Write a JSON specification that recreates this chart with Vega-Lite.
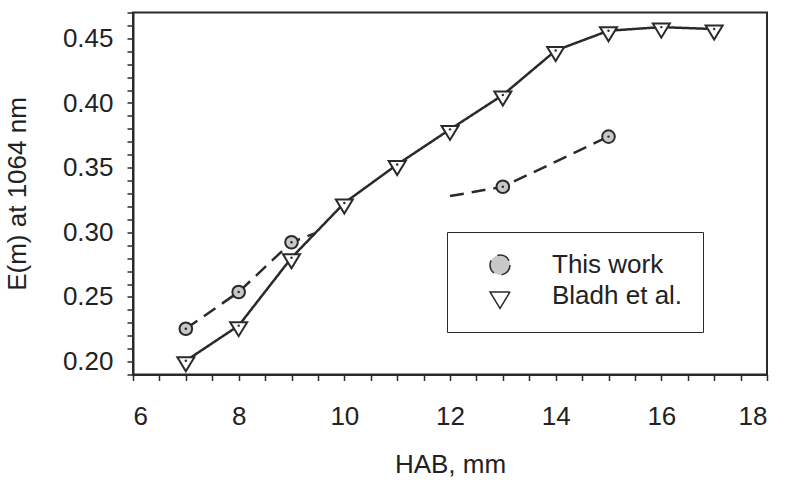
{
  "$schema": "https://vega.github.io/schema/vega-lite/v6.json",
  "width": 634,
  "height": 362,
  "autosize": "none",
  "padding": {"left": 133, "top": 12.5, "right": 20, "bottom": 110.5},
  "background": "white",
  "config": {
    "font": "Liberation Sans",
    "view": {"stroke": "#2a2a2a", "strokeWidth": 2},
    "axis": {
      "domainColor": "#2a2a2a", "domainWidth": 2,
      "tickColor": "#2a2a2a", "tickWidth": 1.5, "tickSize": 6,
      "labelColor": "#222222", "labelFontSize": 26,
      "titleColor": "#222222", "titleFontSize": 26, "titleFontWeight": "normal",
      "grid": false
    }
  },
  "data": {
    "values": [
      {"series": "This work", "hab": 7, "em": 0.2254, "marker": true, "seg": "a"},
      {"series": "This work", "hab": 8, "em": 0.2538, "marker": true, "seg": "a"},
      {"series": "This work", "hab": 9, "em": 0.2923, "marker": true, "seg": "a"},
      {"series": "This work", "hab": 9.44, "em": 0.2991, "marker": false, "seg": "a"},
      {"series": "This work", "hab": 12, "em": 0.328, "marker": false, "seg": "b"},
      {"series": "This work", "hab": 13, "em": 0.3352, "marker": true, "seg": "b"},
      {"series": "This work", "hab": 15, "em": 0.374, "marker": true, "seg": "b"},
      {"series": "Bladh et al.", "hab": 7, "em": 0.2006, "marker": true, "seg": "c"},
      {"series": "Bladh et al.", "hab": 8, "em": 0.2278, "marker": true, "seg": "c"},
      {"series": "Bladh et al.", "hab": 9, "em": 0.2803, "marker": true, "seg": "c"},
      {"series": "Bladh et al.", "hab": 10, "em": 0.3227, "marker": true, "seg": "c"},
      {"series": "Bladh et al.", "hab": 11, "em": 0.3524, "marker": true, "seg": "c"},
      {"series": "Bladh et al.", "hab": 12, "em": 0.3796, "marker": true, "seg": "c"},
      {"series": "Bladh et al.", "hab": 13, "em": 0.4062, "marker": true, "seg": "c"},
      {"series": "Bladh et al.", "hab": 14, "em": 0.4406, "marker": true, "seg": "c"},
      {"series": "Bladh et al.", "hab": 15, "em": 0.4559, "marker": true, "seg": "c"},
      {"series": "Bladh et al.", "hab": 16, "em": 0.4587, "marker": true, "seg": "c"},
      {"series": "Bladh et al.", "hab": 17, "em": 0.4572, "marker": true, "seg": "c"}
    ]
  },
  "encoding": {
    "x": {
      "field": "hab", "type": "quantitative",
      "scale": {"domain": [6, 18], "nice": false, "zero": false},
      "axis": {
        "title": "HAB, mm",
        "values": [6, 6.5, 7, 7.5, 8, 8.5, 9, 9.5, 10, 10.5, 11, 11.5, 12, 12.5, 13, 13.5, 14, 14.5, 15, 15.5, 16, 16.5, 17, 17.5, 18],
        "labelExpr": "datum.value % 2 === 0 ? format(datum.value, 'd') : ''",
        "labelPadding": 23,
        "titlePadding": 22
      }
    },
    "y": {
      "field": "em", "type": "quantitative",
      "scale": {"domain": [0.19, 0.47], "nice": false, "zero": false},
      "axis": {
        "title": "E(m) at 1064 nm",
        "values": [0.19, 0.2, 0.21, 0.22, 0.23, 0.24, 0.25, 0.26, 0.27, 0.28, 0.29, 0.3, 0.31, 0.32, 0.33, 0.34, 0.35, 0.36, 0.37, 0.38, 0.39, 0.4, 0.41, 0.42, 0.43, 0.44, 0.45, 0.46, 0.47],
        "labelExpr": "round(datum.value * 100) % 5 === 0 ? format(datum.value, '.2f') : ''",
        "labelPadding": 14,
        "titlePadding": 32
      }
    }
  },
  "layer": [
    {
      "mark": {"type": "line", "color": "#2a2a2a", "strokeWidth": 2.5},
      "encoding": {
        "detail": {"field": "seg"},
        "strokeDash": {
          "field": "series", "type": "nominal",
          "scale": {"domain": ["This work", "Bladh et al."], "range": [[14, 8], [1, 0]]},
          "legend": {
            "title": null,
            "orient": "none",
            "legendX": 314,
            "legendY": 219.5,
            "padding": 20,
            "strokeColor": "#2a2a2a",
            "symbolSize": 400,
            "symbolOffset": 20,
            "labelOffset": 39,
            "labelFontSize": 26,
            "labelColor": "#222222",
            "rowPadding": 5
          }
        }
      }
    },
    {
      "transform": [{"filter": "datum.marker"}],
      "mark": {"type": "point", "filled": true, "stroke": "#2a2a2a", "strokeWidth": 2, "opacity": 1},
      "encoding": {
        "shape": {
          "field": "series", "type": "nominal",
          "scale": {"domain": ["This work", "Bladh et al."], "range": ["circle", "M-1,-0.41L1,-0.41L0,1.24Z"]},
          "legend": null
        },
        "fill": {
          "field": "series", "type": "nominal",
          "scale": {"domain": ["This work", "Bladh et al."], "range": ["#c8c8c8", "#ffffff"]},
          "legend": null
        },
        "size": {
          "condition": {"test": "datum.series === 'This work'", "value": 160},
          "value": 289
        }
      }
    },
    {
      "transform": [{"filter": "datum.marker"}],
      "mark": {"type": "point", "filled": true, "color": "#2a2a2a", "size": 6, "opacity": 1},
      "encoding": {}
    }
  ]
}
